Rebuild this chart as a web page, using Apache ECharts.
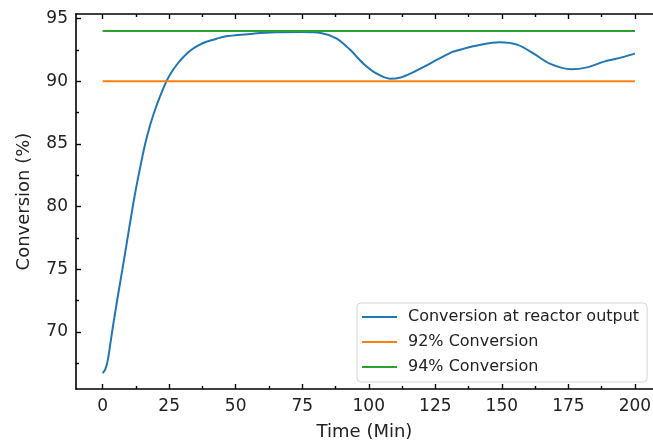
<!DOCTYPE html>
<html>
<head>
<meta charset="utf-8">
<script src="https://cdn.jsdelivr.net/npm/echarts@6/dist/echarts.min.js"></script>
<style>
html,body{margin:0;padding:0;background:#fff;overflow:hidden;}
#chart{width:653px;height:443px;}
</style>
</head>
<body>
<div id="chart"></div>
<script>
// ---- data ----
const times = [0, 1, 2, 3, 4, 6, 8, 10, 12, 14, 16, 18, 20, 22, 24, 26, 28, 30, 33, 36, 39, 43, 47, 57, 65, 75, 82, 88, 93, 98, 103, 108, 112, 116, 123, 131, 135, 142, 149, 156, 162, 168, 176, 182, 189, 195, 200];
const conversion = [66.7, 67.0, 67.8, 69.2, 70.6, 73.2, 75.7, 78.3, 80.8, 83.0, 85.0, 86.6, 87.9, 89.0, 90.0, 90.75, 91.35, 91.85, 92.45, 92.85, 93.15, 93.4, 93.6, 93.8, 93.9, 93.92, 93.85, 93.4, 92.5, 91.4, 90.6, 90.2, 90.3, 90.65, 91.4, 92.3, 92.55, 92.9, 93.1, 92.9, 92.2, 91.4, 90.95, 91.1, 91.6, 91.9, 92.2];
const lineTimes = [0, 200];
const level92 = [90, 90];
const level94 = [94, 94];
const seriesNames = ['Conversion at reactor output', '92% Conversion', '94% Conversion'];
const xMajorTicks = [0, 25, 50, 75, 100, 125, 150, 175, 200];
const xMinorTicks = [12.5, 37.5, 62.5, 87.5, 112.5, 137.5, 162.5, 187.5];
const yMajorTicks = [70, 75, 80, 85, 90, 95];
const yMinorTicks = [67.5, 72.5, 77.5, 82.5, 87.5, 92.5];
const xLabel = 'Time (Min)';
const yLabel = 'Conversion (%)';

const zip = (a, b) => a.map((v, i) => [v, b[i]]);

const FONT = 'DejaVu Sans';
const TXT = '#222';
// visible window of the (cropped) original plot: its right spine lies just off-canvas
const X_MIN = -10, X_MAX = 206.8, Y_MIN = 65.44, Y_MAX = 95.36;

function xAxisDef(pos, ticks, len, showLine, showLabel, extra) {
  return Object.assign({
    type: 'value', gridIndex: 0, position: pos, min: X_MIN, max: X_MAX,
    axisLine: {show: showLine, onZero: false, lineStyle: {color: '#000', width: 1.6}},
    axisTick: {show: true, inside: true, length: len, customValues: ticks, lineStyle: {color: '#000', width: 1.4}},
    axisLabel: showLabel ? {show: true, customValues: ticks, margin: 9, color: TXT, fontSize: 17, fontFamily: FONT} : {show: false},
    splitLine: {show: false}
  }, extra || {});
}
function yAxisDef(pos, ticks, len, showLine, showLabel, extra) {
  return Object.assign({
    type: 'value', gridIndex: 0, position: pos, min: Y_MIN, max: Y_MAX,
    axisLine: {show: showLine, onZero: false, lineStyle: {color: '#000', width: 1.6}},
    axisTick: {show: true, inside: true, length: len, customValues: ticks, lineStyle: {color: '#000', width: 1.4}},
    axisLabel: showLabel ? {show: true, customValues: ticks, margin: 8, color: TXT, fontSize: 17, fontFamily: FONT} : {show: false},
    splitLine: {show: false}
  }, extra || {});
}

const chart = echarts.init(document.getElementById('chart'), null, {renderer: 'canvas'});
chart.setOption({
  animation: false,
  backgroundColor: '#fff',
  grid: {left: 76, top: 14, right: 0, bottom: 54, containLabel: false, outerBoundsMode: 'none'},
  xAxis: [
    xAxisDef('bottom', xMajorTicks, 5, true, true, {
      name: xLabel, nameLocation: 'middle', nameGap: 34,
      nameTextStyle: {color: TXT, fontSize: 18, fontFamily: FONT}
    }),
    xAxisDef('bottom', xMinorTicks, 3, false, false),
    xAxisDef('top', xMajorTicks, 5, true, false),
    xAxisDef('top', xMinorTicks, 3, false, false)
  ],
  yAxis: [
    yAxisDef('left', yMajorTicks, 5, true, true, {
      name: yLabel, nameLocation: 'middle', nameGap: 43, nameRotate: 90,
      nameTextStyle: {color: TXT, fontSize: 18, fontFamily: FONT}
    }),
    yAxisDef('left', yMinorTicks, 3, false, false)
  ],
  legend: {
    orient: 'vertical', left: 357, top: 303,
    data: seriesNames,
    icon: 'rect', itemWidth: 35, itemHeight: 2, itemGap: 7,
    padding: [5, 8, 6, 5],
    backgroundColor: 'rgba(255,255,255,0.85)',
    borderColor: '#d6d6d6', borderWidth: 1, borderRadius: 4,
    textStyle: {color: TXT, fontSize: 16, fontFamily: FONT, lineHeight: 18, padding: [0, 0, 0, 6]}
  },
  series: [
    {name: seriesNames[0], type: 'line', data: zip(times, conversion), smooth: 0.3,
     showSymbol: false, symbol: 'none', lineStyle: {color: '#1f77b4', width: 2}, itemStyle: {color: '#1f77b4'}},
    {name: seriesNames[1], type: 'line', data: zip(lineTimes, level92),
     showSymbol: false, symbol: 'none', lineStyle: {color: '#ff7f0e', width: 2}, itemStyle: {color: '#ff7f0e'}},
    {name: seriesNames[2], type: 'line', data: zip(lineTimes, level94),
     showSymbol: false, symbol: 'none', lineStyle: {color: '#2ca02c', width: 2}, itemStyle: {color: '#2ca02c'}}
  ]
});
</script>
</body>
</html>
